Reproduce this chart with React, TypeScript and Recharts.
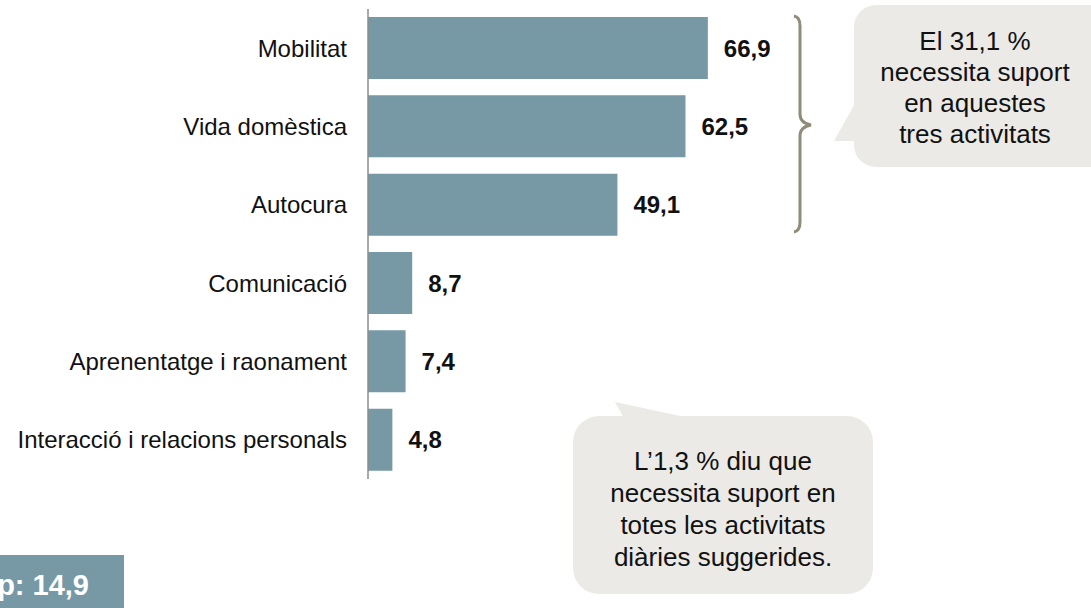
import { BarChart, Bar, XAxis, YAxis, LabelList } from 'recharts';

const CATEGORIES = [
  'Mobilitat',
  'Vida domèstica',
  'Autocura',
  'Comunicació',
  'Aprenentatge i raonament',
  'Interacció i relacions personals',
];
const VALUES = [66.9, 62.5, 49.1, 8.7, 7.4, 4.8];

const TOP_NOTE = ['El 31,1 %', 'necessita suport', 'en aquestes', 'tres activitats'];
const BOTTOM_NOTE = ['L’1,3 % diu que', 'necessita suport en', 'totes les activitats', 'diàries suggerides.'];
const TOTAL_LABEL = 'p: 14,9';

const data = CATEGORIES.map((name, i) => ({ name, value: VALUES[i] }));

const FONT = '"Liberation Sans", Arial, Helvetica, sans-serif';
const BAR_COLOR = '#7699a5';
const NOTE_FILL = '#ebeae6';

const fmt = (v: any) => Number(v).toFixed(1).replace('.', ',');

export default function App() {
  return (
    <div
      style={{
        position: 'absolute',
        left: 0,
        top: 0,
        width: 1091,
        height: 608,
        background: '#fff',
        fontFamily: FONT,
        overflow: 'hidden',
      }}
    >
      <BarChart
        width={1091}
        height={608}
        data={data}
        layout="vertical"
        margin={{ top: 9, right: 215, bottom: 129, left: 0 }}
      >
        <XAxis type="number" domain={[0, 100]} hide />
        <YAxis
          type="category"
          dataKey="name"
          width={368}
          axisLine={{ stroke: '#8c8c8c', strokeWidth: 1.5 }}
          tickLine={false}
          tickMargin={15}
          tick={{ fill: '#111', fontSize: 24, fontFamily: FONT }}
        />
        <Bar dataKey="value" fill={BAR_COLOR} barSize={62} isAnimationActive={false}>
          <LabelList
            dataKey="value"
            position="right"
            offset={16}
            formatter={fmt}
            style={{ fill: '#111', fontSize: 24, fontWeight: 700, fontFamily: FONT }}
          />
        </Bar>
      </BarChart>

      <svg
        width={1091}
        height={608}
        style={{ position: 'absolute', left: 0, top: 0, pointerEvents: 'none' }}
      >
        {/* brace for the first three bars */}
        <path
          d="M 794 16 Q 800 17 800 26 L 800 114 Q 800 123 811 125 Q 800 127 800 136 L 800 222 Q 800 231 794 232"
          fill="none"
          stroke="#8f8c79"
          strokeWidth={3}
        />

        {/* top callout */}
        <rect x={854} y={5} width={260} height={162} rx={22} fill={NOTE_FILL} />
        <polygon points="858,98 834,141 858,141" fill={NOTE_FILL} />
        {TOP_NOTE.map((t, i) => (
          <text
            key={t}
            x={975}
            y={50 + i * 31}
            textAnchor="middle"
            fontSize={26}
            fontFamily={FONT}
            fill="#111"
          >
            {t}
          </text>
        ))}

        {/* bottom callout */}
        <rect x={573} y={416} width={300} height={178} rx={26} fill={NOTE_FILL} />
        <polygon points="615,402 699,420 625,420" fill={NOTE_FILL} />
        {BOTTOM_NOTE.map((t, i) => (
          <text
            key={t}
            x={723}
            y={470 + i * 32}
            textAnchor="middle"
            fontSize={26}
            fontFamily={FONT}
            fill="#111"
          >
            {t}
          </text>
        ))}

        {/* total box, cut at the left edge */}
        <rect x={0} y={555} width={124} height={60} fill={BAR_COLOR} />
        <text
          x={89}
          y={595}
          textAnchor="end"
          fontSize={29}
          fontWeight={700}
          fontFamily={FONT}
          fill="#fff"
        >
          {TOTAL_LABEL}
        </text>
      </svg>
    </div>
  );
}
